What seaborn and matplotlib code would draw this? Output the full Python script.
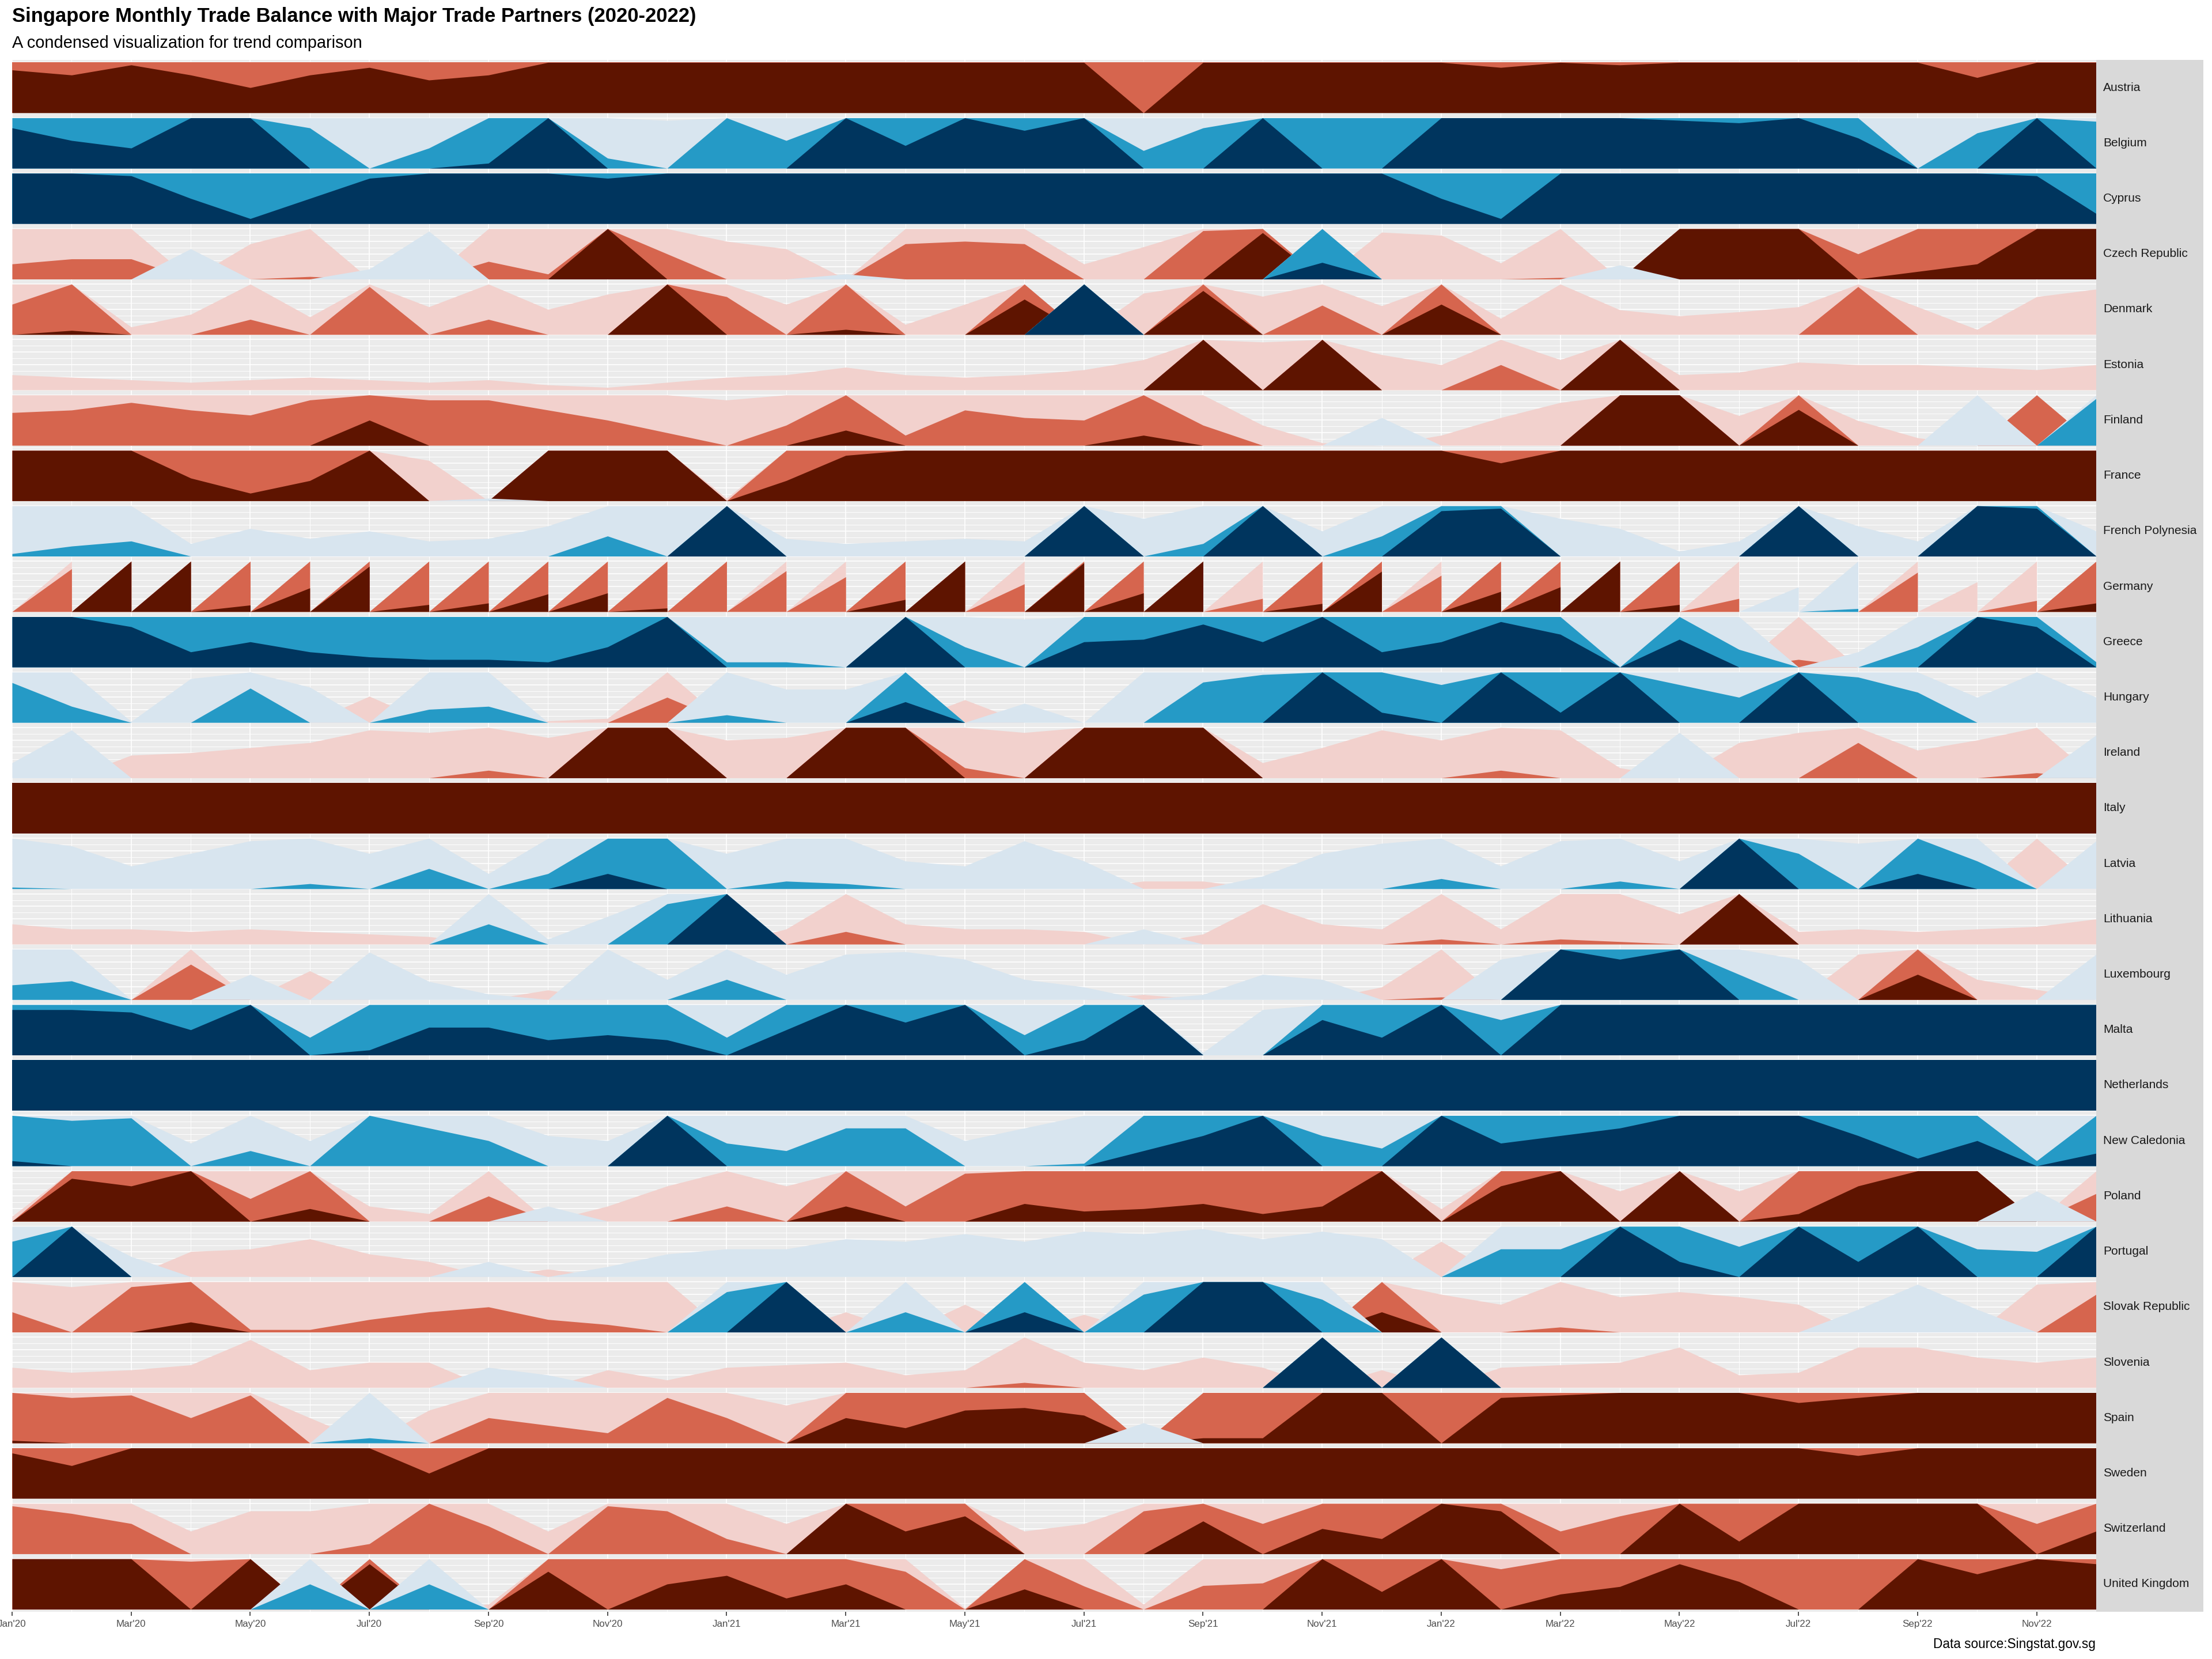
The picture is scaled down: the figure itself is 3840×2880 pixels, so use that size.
import numpy as np
import matplotlib
matplotlib.use("Agg")
import matplotlib.pyplot as plt
from matplotlib.patches import Rectangle
import seaborn as sns

# months Jan'20 .. Dec'22, every other one is labelled on the axis
MONTHS = [f"{m}'{y}" for y in ("20", "21", "22")
          for m in ("Jan", "Feb", "Mar", "Apr", "May", "Jun",
                    "Jul", "Aug", "Sep", "Oct", "Nov", "Dec")]

COUNTRIES = ["Austria", "Belgium", "Cyprus", "Czech Republic", "Denmark", "Estonia",
             "Finland", "France", "French Polynesia", "Germany", "Greece", "Hungary",
             "Ireland", "Italy", "Latvia", "Lithuania", "Luxembourg", "Malta",
             "Netherlands", "New Caledonia", "Poland", "Portugal", "Slovak Republic",
             "Slovenia", "Spain", "Sweden", "Switzerland", "United Kingdom"]

# trade balance, expressed in horizon band units (1 band = 1 colour step)
AUSTRIA = [2.85, 2.75, 2.95, 2.75, 2.5, 2.75, 2.9, 2.65, 2.75, 3.2, 3.3, 3.3,
           3.2, 3.3, 3.2, 3.3, 3.2, 3.3, 3.1, 2.0, 3.1, 3.3, 3.2, 3.2,
           3.1, 2.9, 3.05, 2.95, 3.2, 3.3, 3.3, 3.2, 3.1, 2.7, 3.1, 3.2]
BELGIUM = [-2.8, -2.55, -2.4, -3.05, -3.0, -1.8, -1.0, -1.4, -2.1, -3.05, -1.2, -0.95,
           -2.0, -1.55, -3.05, -2.45, -3.05, -2.75, -3.05, -1.35, -1.8, -3.05, -2.0, -2.0,
           -3.1, -3.1, -3.1, -3.05, -2.95, -2.9, -3.0, -2.6, -1.0, -1.7, -3.05, -1.93]
CYPRUS = [-3.1, -3.1, -2.95, -2.5, -2.1, -2.5, -2.9, -3.1, -3.1, -3.05, -2.9, -3.0,
          -3.1, -3.1, -3.1, -3.1, -3.1, -3.1, -3.1, -3.1, -3.1, -3.1, -3.1, -3.0,
          -2.5, -2.1, -3.1, -3.1, -3.1, -3.1, -3.1, -3.1, -3.1, -3.1, -2.95, -2.2]
CZECH = [1.3, 1.4, 1.4, -0.6, 0.7, 1.05, -0.2, -0.95, 1.35, 1.1, 3.0, 1.5,
         0.75, 0.6, -0.1, 1.7, 1.75, 1.7, 0.3, 0.64, 1.96, 2.92, -2.33, 0.93,
         0.87, 0.32, 1.03, -0.28, 3.0, 3.0, 3.0, 1.5, 2.15, 2.3, 3.0, 3.0]
DENMARK = [1.6, 2.08, 0.15, 0.4, 1.3, 0.35, 1.95, 0.55, 1.3, 0.5, 0.8, 3.0,
           1.75, 0.6, 2.1, 0.2, 0.6, 2.7, -3.05, 0.82, 2.87, 0.76, 1.58, 0.57,
           2.6, 0.32, 1.0, 0.49, 0.37, 0.45, 0.55, 1.95, 0.55, 0.1, 0.75, 0.9]
ESTONIA = [0.3, 0.25, 0.2, 0.15, 0.2, 0.25, 0.2, 0.15, 0.2, 0.1, 0.05, 0.15,
           0.25, 0.3, 0.45, 0.3, 0.25, 0.3, 0.4, 0.6, 3.0, 0.95, 3.0, 0.7,
           0.5, 1.5, 0.6, 3.0, 0.3, 0.35, 0.55, 0.5, 0.5, 0.45, 0.4, 0.5]
FINLAND = [1.65, 1.7, 1.85, 1.7, 1.6, 1.9, 2.5, 1.9, 1.9, 1.7, 1.5, 1.25,
           0.9, 1.4, 2.3, 1.2, 1.7, 1.55, 1.5, 2.2, 1.4, 0.4, 0.05, -0.55,
           0.2, 0.55, 0.85, 3.0, 3.0, 0.59, 2.71, 0.49, 0.15, -1.0, 2.0, -1.93]
FRANCE = [3.2, 3.2, 3.1, 2.45, 2.15, 2.4, 3.0, 0.8, -0.05, 3.1, 3.2, 3.1,
          0.05, 2.4, 2.9, 3.1, 3.2, 3.2, 3.1, 3.2, 3.1, 3.2, 3.2, 3.1,
          3.1, 2.75, 3.1, 3.2, 3.2, 3.1, 3.2, 3.2, 3.1, 3.2, 3.2, 3.2]
FR_POLYNESIA = [-1.05, -1.2, -1.3, -0.25, -0.55, -0.35, -0.5, -0.3, -0.35, -0.6, -1.4, -1.0,
                -3.05, -0.35, -0.25, -0.3, -0.35, -0.3, -3.05, -0.75, -1.25, -3.05, -0.5, -1.4,
                -2.9, -2.95, -0.75, -0.55, -0.1, -0.3, -3.05, -0.6, -0.3, -3.05, -2.95, -0.5]
# Germany is reported with an extra zero row every month (gives the saw-tooth)
GERMANY = [2.5, 1.85, 3.0, 3.0, 2.13, 2.47, 2.9, 2.14, 2.17, 2.35, 2.37, 2.07,
           2.0, 1.81, 1.69, 2.24, 3.0, 1.55, 2.97, 2.37, 3.0, 1.26, 2.16, 2.8,
           1.72, 2.4, 2.49, 3.0, 2.14, 1.26, -0.49, -1.06, 1.78, 0.59, 1.22, 2.17]
GREECE = [-3.1, -3.1, -2.8, -2.3, -2.5, -2.3, -2.2, -2.15, -2.15, -2.1, -2.4, -3.05,
          -1.1, -1.1, -1.0, -3.05, -1.4, -0.95, -2.5, -2.55, -2.85, -2.5, -3.05, -2.3,
          -2.5, -2.9, -2.65, -1.0, -2.55, -1.35, 1.15, -0.3, -1.4, -3.05, -2.8, -1.1]
HUNGARY = [-1.79, -1.32, -0.02, -0.87, -1.68, -0.7, 0.52, -1.26, -1.32, 0.03, 0.08, 1.5,
           -1.15, -0.66, -0.66, -2.41, 0.45, -0.38, 0.0, -1.0, -1.8, -1.95, -3.05, -2.2,
           -1.75, -3.05, -2.2, -3.05, -1.75, -1.5, -3.05, -1.9, -1.6, -0.5, -1.0, -0.5]
IRELAND = [-0.3, -0.95, 0.45, 0.5, 0.6, 0.7, 0.95, 0.9, 1.15, 0.8, 3.0, 3.0,
           0.75, 0.8, 3.0, 3.0, 1.2, 0.9, 3.0, 3.0, 3.0, 0.3, 0.6, 0.95,
           0.75, 1.15, 0.95, 0.2, -0.9, 0.7, 0.9, 1.7, 0.55, 0.75, 1.1, -0.85]
ITALY = [3.4, 3.5, 3.4, 3.3, 3.2, 3.4, 3.5, 3.3, 3.4, 3.5, 3.6, 3.4,
         3.3, 3.4, 3.5, 3.4, 3.5, 3.4, 3.6, 3.3, 3.5, 3.6, 3.5, 3.4,
         3.3, 3.4, 3.5, 3.5, 3.4, 3.6, 3.5, 3.4, 3.5, 3.6, 3.5, 3.4]
LATVIA = [-1.03, -0.85, -0.45, -0.7, -0.95, -1.1, -0.7, -1.4, -0.3, -1.3, -2.3, -2.0,
          -0.7, -1.15, -1.1, -0.55, -0.45, -0.95, -0.55, 0.15, 0.15, -0.25, -0.7, -0.9,
          -1.2, -0.45, -0.95, -1.15, -0.55, -3.05, -1.7, -0.9, -2.3, -1.55, 1.0, -0.95]
LITHUANIA = [0.4, 0.3, 0.3, 0.25, 0.3, 0.25, 0.2, 0.15, -1.4, -0.1, -0.55, -1.8,
             -3.05, 0.3, 1.25, 0.4, 0.3, 0.3, 0.25, -0.3, 0.2, 0.8, 0.4, 0.3,
             1.1, 0.3, 1.1, 1.05, 0.6, 3.0, 0.25, 0.3, 0.25, 0.3, 0.35, 0.5]
LUXEMBOURG = [-1.29, -1.37, 0.0, 1.7, -0.5, 0.57, -0.94, -0.36, -0.11, 0.19, -1.0, -0.4,
              -1.4, -0.5, -0.9, -0.95, -0.8, -0.4, -0.25, 0.1, -0.1, -0.5, -0.4, 0.25,
              1.05, -0.8, -3.05, -2.8, -3.05, -1.5, -0.8, 0.9, 2.5, 0.4, 0.2, -0.9]
MALTA = [-2.9, -2.9, -2.85, -2.5, -3.05, -1.35, -2.1, -2.55, -2.55, -2.3, -2.4, -2.3,
         -1.35, -2.5, -3.05, -2.65, -3.05, -1.4, -2.3, -3.05, -0.05, -0.9, -2.7, -2.35,
         -3.05, -1.7, -3.1, -3.1, -3.1, -3.1, -3.1, -3.1, -3.1, -3.1, -3.1, -3.1]
NETHERLANDS = [-3.4, -3.5, -3.4, -3.3, -3.2, -3.4, -3.5, -3.3, -3.4, -3.5, -3.6, -3.4,
               -3.3, -3.4, -3.5, -3.4, -3.5, -3.4, -3.6, -3.3, -3.5, -3.6, -3.5, -3.4,
               -3.3, -3.4, -3.5, -3.5, -3.4, -3.6, -3.5, -3.4, -3.5, -3.6, -3.5, -3.4]
NEW_CALEDONIA = [-2.1, -1.9, -1.95, -0.45, -1.3, -0.5, -2.0, -1.75, -1.5, -0.6, -0.5, -3.05,
                 -1.45, -1.3, -1.75, -1.75, -0.5, -0.75, -1.05, -2.3, -2.6, -3.0, -1.6, -1.35,
                 -3.05, -2.45, -2.6, -2.75, -3.05, -3.05, -3.05, -2.6, -2.15, -2.5, -1.1, -2.25]
POLAND = [0.1, 2.85, 2.7, 3.0, 1.45, 2.25, 0.3, 0.15, 1.5, -0.3, 0.3, 0.7,
          1.3, 0.7, 2.3, 1.3, 1.95, 2.35, 2.2, 2.25, 2.35, 2.15, 2.3, 3.0,
          0.25, 2.7, 3.0, 0.6, 3.0, 0.6, 2.15, 2.7, 3.0, 3.0, -0.6, 1.55]
PORTUGAL = [-1.7, -3.05, -0.4, 0.5, 0.55, 0.75, 0.45, 0.3, -0.3, 0.15, -0.2, -0.45,
            -0.55, -0.55, -0.75, -0.7, -0.85, -0.7, -0.9, -0.85, -0.95, -0.75, -0.9, -0.75,
            0.7, -1.55, -1.55, -3.05, -2.3, -1.6, -3.05, -2.3, -3.05, -1.55, -1.5, -3.05]
SLOVAKIA = [1.4, 0.9, 1.9, 2.2, 1.05, 1.05, 1.25, 1.4, 1.5, 1.25, 1.15, 1.0,
            -1.8, -3.05, 0.4, -1.4, 0.55, -2.4, 0.35, -1.75, -3.05, -3.05, -1.65, 2.4,
            0.75, 0.55, 1.1, 0.7, 0.8, 0.7, 0.55, -0.45, -0.95, -0.45, 0.95, 1.75]
SLOVENIA = [0.4, 0.3, 0.35, 0.45, 0.95, 0.35, 0.5, 0.5, -0.4, -0.25, 0.35, 0.15,
            0.4, 0.45, 0.5, 0.25, 0.35, 1.1, 0.5, 0.35, 0.6, 0.4, -3.05, 0.35,
            -3.05, 0.4, 0.45, 0.5, 0.8, 0.25, 0.3, 0.8, 0.8, 0.6, 0.5, 0.6]
SPAIN = [2.05, 1.9, 1.95, 1.5, 1.95, 0.5, -1.1, 0.65, 1.5, 1.35, 1.2, 1.9,
         1.5, 0.75, 2.5, 2.3, 2.65, 2.7, 2.55, -0.4, 2.1, 2.1, 3.0, 3.0,
         2.0, 2.9, 2.95, 3.0, 3.0, 3.0, 2.8, 2.9, 3.0, 3.0, 3.0, 3.0]
SWEDEN = [2.9, 2.65, 3.0, 3.1, 3.1, 3.05, 3.0, 2.5, 3.1, 3.1, 3.2, 3.1,
          3.1, 3.2, 3.1, 3.2, 3.1, 3.2, 3.2, 3.1, 3.2, 3.1, 3.2, 3.1,
          3.2, 3.2, 3.1, 3.2, 3.1, 3.2, 3.1, 2.85, 3.1, 3.2, 3.1, 3.2]
SWITZERLAND = [1.95, 1.8, 1.6, 0.45, 0.85, 0.85, 1.2, 2.0, 1.55, 0.45, 1.95, 1.85,
               1.3, 0.6, 3.0, 2.45, 2.75, 0.45, 0.6, 1.85, 2.65, 1.6, 2.5, 2.3,
               3.0, 2.85, 1.45, 1.75, 3.0, 2.25, 3.0, 3.0, 3.0, 3.0, 1.6, 2.45]
UK = [3.1, 3.1, 3.05, 1.95, 3.0, -1.5, 2.9, -1.5, 0.1, 2.75, 2.0, 2.5,
      2.67, 2.22, 2.5, 1.75, 0.02, 2.4, 1.46, 0.1, 1.47, 1.52, 3.0, 2.35,
      3.0, 1.8, 2.3, 2.45, 2.9, 2.55, 2.0, 2.0, 3.0, 2.7, 3.0, 2.9]

SERIES = [AUSTRIA, BELGIUM, CYPRUS, CZECH, DENMARK, ESTONIA, FINLAND, FRANCE,
          FR_POLYNESIA, GERMANY, GREECE, HUNGARY, IRELAND, ITALY, LATVIA, LITHUANIA,
          LUXEMBOURG, MALTA, NETHERLANDS, NEW_CALEDONIA, POLAND, PORTUGAL, SLOVAKIA,
          SLOVENIA, SPAIN, SWEDEN, SWITZERLAND, UK]
ZERO_ROWS = {"Germany"}

POS_COLORS = ["#F2D1CD", "#D6654E", "#5E1400"]   # surplus bands, light -> dark
NEG_COLORS = ["#D8E5EF", "#259AC6", "#00355E"]   # deficit bands, light -> dark

for s in SERIES:
    assert len(s) == len(MONTHS)

sns.set_theme(style="darkgrid", rc={"axes.facecolor": "#EBEBEB", "grid.color": "white",
                                    "figure.facecolor": "white"})
plt.rcParams["font.family"] = ["Liberation Sans", "DejaVu Sans"]

W, H = 3840, 2880
fig = plt.figure(figsize=(16, 12), dpi=240)

left, right, top, bottom = 21, 3639, 104, 2798
n = len(COUNTRIES)
pitch = (bottom - top) / n

# facet strip on the right
fig.patches.append(Rectangle((right / W, 1 - bottom / H), (3825 - right) / W, (bottom - top) / H,
                             transform=fig.transFigure, facecolor="#D9D9D9", edgecolor="none"))

x = np.arange(len(MONTHS), dtype=float)
for i, (name, vals) in enumerate(zip(COUNTRIES, SERIES)):
    y0 = top + i * pitch
    ax = fig.add_axes([left / W, 1 - (y0 + pitch) / H, (right - left) / W, pitch / H])
    v = np.asarray(vals, dtype=float)
    xs = x
    if name in ZERO_ROWS:
        xs = np.repeat(x, 2)
        v = np.column_stack([v, np.zeros_like(v)]).ravel()

    for k in range(3):
        ax.fill_between(xs, 0, np.clip(v - k, 0, 1), color=POS_COLORS[k], linewidth=0)
    for k in range(3):
        ax.fill_between(xs, 0, np.clip(-v - k, 0, 1), color=NEG_COLORS[k], linewidth=0)

    ax.set_xlim(0, len(MONTHS) - 1)
    ax.set_ylim(-0.05, 1.05)
    ax.set_xticks(x[::2])
    ax.set_xticks(x[1::2], minor=True)
    ax.set_yticks([0, 0.25, 0.5, 0.75, 1.0])
    ax.set_yticks([0.125, 0.375, 0.625, 0.875], minor=True)
    ax.grid(which="major", color="white", linewidth=0.5)
    ax.grid(which="minor", color="white", linewidth=0.28)
    ax.tick_params(which="both", left=False, labelleft=False, length=0)
    for sp in ax.spines.values():
        sp.set_visible(False)
    if i == n - 1:
        ax.set_xticklabels(MONTHS[::2])
        ax.tick_params(axis="x", which="major", bottom=True, length=2.1, width=0.5,
                       color="#333333", labelsize=5.1, labelcolor="#4D4D4D", pad=2)
    else:
        ax.tick_params(axis="x", labelbottom=False)

    fig.text(3651 / W, 1 - (y0 + pitch / 2) / H, name, fontsize=6.3,
             color="#1A1A1A", ha="left", va="center")

fig.text(21 / W, 1 - 38 / H, "Singapore Monthly Trade Balance with Major Trade Partners (2020-2022)",
         fontsize=10.4, fontweight="bold", color="black", ha="left", va="baseline")
fig.text(21 / W, 1 - 83 / H, "A condensed visualization for trend comparison",
         fontsize=8.7, color="black", ha="left", va="baseline")
fig.text(3638 / W, 1 - 2861 / H, "Data source:Singstat.gov.sg",
         fontsize=6.8, color="black", ha="right", va="baseline")

fig.savefig("out.png", dpi=240)
